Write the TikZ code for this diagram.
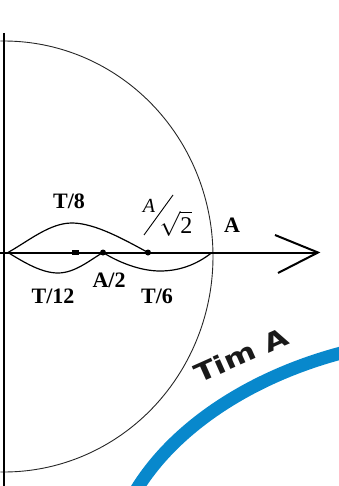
\documentclass[tikz,border=0pt]{standalone}
\usepackage{fontspec}
\setmainfont{Liberation Serif}
\newfontfamily\wmfont{DejaVu Sans}
\usepackage{graphicx}
\definecolor{blueA}{RGB}{8,136,204}
\begin{document}
\begin{tikzpicture}[x=1pt,y=-1pt,
  axis/.style={line width=2pt, line join=miter},
  circ/.style={line width=0.9pt, black!85},
  wave/.style={line width=1.2pt},
  lbl/.style={font=\fontsize{22}{26}\selectfont\bfseries, inner sep=0pt, anchor=base},
  dotR/.style={circle, fill, inner sep=0pt, minimum size=6pt},
  dotS/.style={rectangle, fill, inner sep=0pt, minimum width=7pt, minimum height=4.5pt},
]
\useasboundingbox (0,0) rectangle (338,486);
% circle
\draw[circ] plot[domain=-91:91, samples=150] ({4+209*cos(\x)}, {256.5-215.5*sin(\x)});
% axes
\coordinate (vtop) at (4,33);
\coordinate (vbot) at (4,486);
\coordinate (hl) at (0,252.5);
\coordinate (hr) at (318,252.5);
\coordinate (ah1) at (275,235);
\coordinate (ah2) at (278,273);
\draw[axis] (vtop) -- (vbot);
\draw[axis] (hl) -- (hr);
\draw[axis] (ah1) -- (hr) -- (ah2);
% dots
\node[dotS] (d1) at (75,252.5) {};
\node[dotR] (d2) at (103,252.5) {};
\node[dotR] (d3) at (148,252.5) {};
% waves
\coordinate (s) at (8,252.5);
\coordinate (e) at (212,252.5);
\draw[wave] (s) .. controls (30,240) and (50,223) .. (72,223)
  .. controls (95,223) and (125,240) .. (d3.center);
\draw[wave] (s) .. controls (25,263) and (42,273) .. (58,273)
  .. controls (75,273) and (90,260) .. (d2.center)
  .. controls (118,262) and (140,271) .. (160,271)
  .. controls (183,271) and (200,262) .. (e);
% labels
\node[lbl] (t8) at (69,208.5) {T/8};
\node[lbl] (t12) at (53,303) {T/12};
\node[lbl] (a2) at (109,287) {A/2};
\node[lbl] (t6) at (157,303) {T/6};
\node[lbl] (aa) at (232,232) {A};
\node[inner sep=0pt, anchor=base, font=\fontsize{20}{24}\selectfont\itshape] (ai) at (149,212) {A};
\coordinate (sl1) at (144,235);
\coordinate (sl2) at (173,195);
\draw[line width=0.9pt] (sl1) -- (sl2);
\node[inner sep=0pt, anchor=base, font=\fontsize{24}{28}\selectfont] (r2) at (176,233) {$\sqrt{\mbox{2}}$};
% watermark
\node[rotate=24, font=\wmfont\fontsize{25}{30}\selectfont\bfseries, text=black!90, inner sep=0pt] (wm) at (241,355) {\scalebox{1.25}[1]{Tim A}};
\coordinate (b0) at (135,492);
\coordinate (b3) at (345,352);
\draw[line width=13pt, blueA] (b0) .. controls (175,425) and (255,375) .. (b3);
\end{tikzpicture}
\end{document}
